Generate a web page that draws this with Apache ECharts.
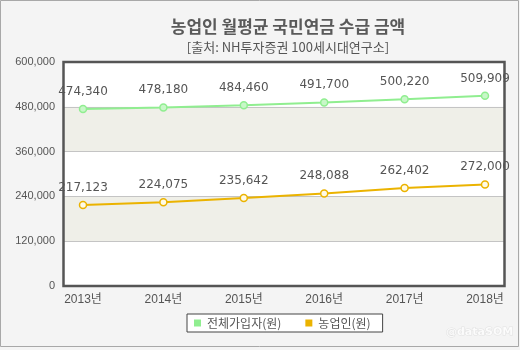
<!DOCTYPE html>
<html>
<head>
<meta charset="utf-8">
<script src="https://cdn.jsdelivr.net/npm/echarts@6/dist/echarts.min.js"></script>
<style>
  html, body { margin: 0; padding: 0; background: #f4f4f4; }
  #chart { width: 520px; height: 350px; }
</style>
</head>
<body>
<div id="chart"></div>
<script>
// 농업인 월평균 국민연금 수급 금액 (단위: 원)
const years = ['2013년', '2014년', '2015년', '2016년', '2017년', '2018년'];
const allSubscribers = [474340, 478180, 484460, 491700, 500220, 509909];
const farmers = [217123, 224075, 235642, 248088, 262402, 272000];
const seriesNames = ['전체가입자(원)', '농업인(원)'];
const seriesColors = ['#90ee90', '#ebb300'];
const yMin = 0, yMax = 600000, yStep = 120000;

const axisFont = '"Liberation Sans", "Noto Sans CJK KR", sans-serif';
const labelFont = '"DejaVu Sans", "Noto Sans CJK KR", sans-serif';
const cjkFont = '"Noto Sans CJK KR", sans-serif';

const chart = echarts.init(document.getElementById('chart'), null, { renderer: 'canvas' });

const fmt = v => v.toLocaleString('en-US');

chart.setOption({
  backgroundColor: '#f4f4f4',
  animation: false,
  title: [
    {
      text: '농업인 월평균 국민연금 수급 금액',
      left: 283, top: 13, textAlign: 'center',
      textStyle: { fontFamily: cjkFont, fontSize: 17, fontWeight: 'bold', color: '#5a5a5a' }
    },
    {
      text: '[출처: NH투자증권 100세시대연구소]',
      left: 283, top: 36, textAlign: 'center',
      textStyle: { fontFamily: cjkFont, fontSize: 13, fontWeight: 'normal', color: '#555' }
    }
  ],
  legend: {
    data: seriesNames.map((n, i) => ({ name: n, icon: 'rect', itemStyle: { color: seriesColors[i], borderWidth: 0 } })),
    left: 187, top: 314,
    padding: [3, 12, 3, 7],
    itemGap: 24,
    backgroundColor: '#fff',
    borderColor: '#444', borderWidth: 1,
    itemWidth: 7, itemHeight: 7,
    textStyle: { fontFamily: cjkFont, fontSize: 12, color: '#555', padding: [0, 0, 0, 1] }
  },
  grid: [
    // bands and value ticks
    { left: 63, top: 62, width: 441, height: 224, show: false },
    // plotting area for the two series
    { left: 83, top: 62, width: 402, height: 224, show: false }
  ],
  xAxis: [
    { gridIndex: 0, type: 'category', data: years, show: false },
    {
      gridIndex: 1, type: 'category', data: years, boundaryGap: false,
      axisLine: { show: false }, axisTick: { show: false },
      axisLabel: { fontFamily: axisFont, fontSize: 12, color: '#555', margin: 8 },
      splitLine: { show: false }
    }
  ],
  yAxis: [
    {
      gridIndex: 0, type: 'value', min: yMin, max: yMax, interval: yStep,
      axisLine: { show: false }, axisTick: { show: false },
      axisLabel: { fontFamily: axisFont, fontSize: 11, color: '#555', margin: 8, formatter: fmt },
      splitLine: { show: true, lineStyle: { color: '#c4c4c4', width: 1 } },
      splitArea: { show: true, areaStyle: { color: ['#ffffff', '#efefe8'] } }
    },
    { gridIndex: 1, type: 'value', min: yMin, max: yMax, interval: yStep, show: false, splitLine: { show: false } }
  ],
  series: [
    {
      name: seriesNames[0], type: 'line', xAxisIndex: 1, yAxisIndex: 1,
      data: allSubscribers,
      color: seriesColors[0],
      lineStyle: { color: seriesColors[0], width: 2 },
      symbol: 'circle', symbolSize: 7,
      itemStyle: { color: '#c8f7c8', borderColor: seriesColors[0], borderWidth: 1.5 },
      label: { show: true, position: 'top', distance: 7, fontFamily: labelFont, fontSize: 12, color: '#555', formatter: p => fmt(p.value) },
      z: 3
    },
    {
      name: seriesNames[1], type: 'line', xAxisIndex: 1, yAxisIndex: 1,
      data: farmers,
      color: seriesColors[1],
      lineStyle: { color: seriesColors[1], width: 2 },
      symbol: 'circle', symbolSize: 7,
      itemStyle: { color: '#fffbe6', borderColor: seriesColors[1], borderWidth: 1.5 },
      label: { show: true, position: 'top', distance: 7, fontFamily: labelFont, fontSize: 12, color: '#555', formatter: p => fmt(p.value) },
      z: 3
    }
  ],
  graphic: [
    // outer border of the canvas
    { type: 'rect', shape: { x: 0.5, y: 0.5, width: 518, height: 346 }, style: { fill: 'none', stroke: '#a8a8a8', lineWidth: 1 }, z: -1, silent: true },
    // dark frame round the plot area
    { type: 'rect', shape: { x: 63.5, y: 62, width: 441, height: 224 }, style: { fill: 'none', stroke: '#555', lineWidth: 2.5 }, z: 10, silent: true },
    { type: 'text', x: 446, y: 327, style: { text: '@dataSOM', fontFamily: '"DejaVu Sans", sans-serif', fontSize: 11, fontWeight: 'bold', fill: 'rgba(255,255,255,0.8)', stroke: '#e2e2e2', lineWidth: 1 }, z: 10, silent: true }
  ]
});
</script>
</body>
</html>
